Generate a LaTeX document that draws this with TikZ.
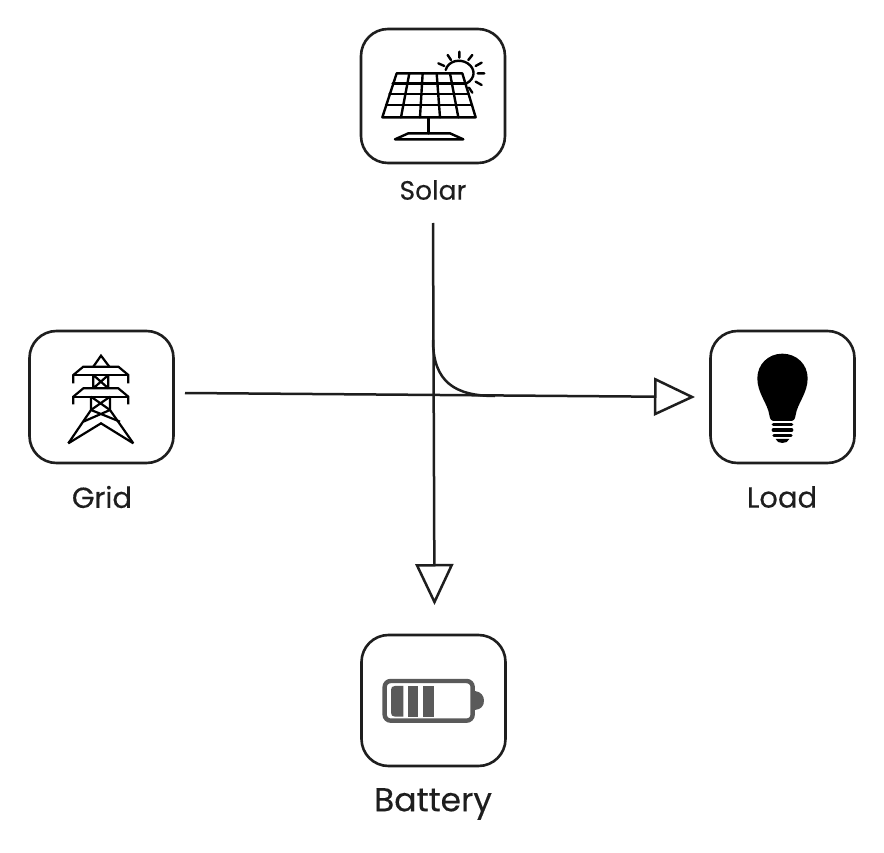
\documentclass[tikz,border=0pt]{standalone}
\usepackage{fontspec}
\newfontfamily\capfont{Poppins}[FakeBold=0.25]
\usetikzlibrary{arrows.meta}
\definecolor{ink}{HTML}{1E1E1E}
\definecolor{battgray}{HTML}{5A5A5A}
\tikzset{
  iconbox/.style={draw=ink,line width=2.6pt,rounded corners=27pt,fill=white,inner sep=0pt},
  caption/.style={text=ink,inner sep=0pt,anchor=center},
  flow/.style={draw=ink,line width=2.5pt},
  openhead/.style={-{Triangle[open,length=41pt,width=38pt,line width=2.5pt]}},
  iconline/.style={draw=black,line width=2.4pt,line cap=round,line join=round},
  towerline/.style={draw=black,line width=2.2pt,line cap=butt,line join=miter},
  bulbring/.style={draw=black,line width=3.4pt,line cap=round}
}
\begin{document}
\begin{tikzpicture}[x=1pt,y=-1pt]
\useasboundingbox (0,0) rectangle (884,853);
\fill[white] (0,0) rectangle (884,853);

% boxes
\node[iconbox,minimum width=144pt,minimum height=134pt] (solar) at (433,96) {};
\node[iconbox,minimum width=144pt,minimum height=132pt] (grid) at (101.5,397) {};
\node[iconbox,minimum width=144pt,minimum height=132pt] (load) at (782.5,397) {};
\node[iconbox,minimum width=144pt,minimum height=131pt] (battery) at (433.5,700.5) {};

% captions
\node[caption,font=\capfont\fontsize{26.5}{26.5}\selectfont] (solarlabel) at (433,190) {Solar};
\node[caption,font=\capfont\fontsize{29}{29}\selectfont] (gridlabel) at (102,497) {Grid};
\node[caption,font=\capfont\fontsize{29}{29}\selectfont] (loadlabel) at (782,497) {Load};
\node[caption,font=\capfont\fontsize{33}{33}\selectfont] (batterylabel) at (433,804) {Battery};

% connector ends
\coordinate (solarout) at (433,223);
\coordinate (batteryin) at (434.5,605);
\coordinate (gridout) at (185,393);
\coordinate (loadin) at (695,397);
\coordinate (curvestart) at (433,340);
\coordinate (curveend) at (495,396);

% connectors
\draw[flow,openhead] (solarout) -- (batteryin);
\draw[flow,openhead] (gridout) -- (loadin);
\draw[flow] (curvestart) .. controls (433,382) and (455,396) .. (curveend);

% solar icon
\begin{scope}[shift={(355,20)},x=0.3333pt,y=-0.3333pt]
  \draw[iconline] (125,160) -- (322,160) -- (362,292) -- (82,292) -- cycle;
  \draw[iconline] (113,190) -- (331,190) (103,222) -- (341,222) (93,255) -- (351,255);
  \draw[iconline] (163,160) -- (138,292) (203,160) -- (195,292) (245,160) -- (255,292) (285,160) -- (310,292);
  \draw[iconline] (220,292) -- (220,340);
  \draw[iconline] (160,340) -- (285,340) -- (325,358) -- (120,358) -- cycle;
  \draw[iconline] (272,150) .. controls (280,122) and (315,115) .. (338,130) .. controls (362,146) and (362,175) .. (335,190);
  \draw[iconline] (250,130) -- (268,138) (278,105) -- (288,120) (313,95) -- (313,113)
    (352,105) -- (340,120) (380,128) -- (362,138) (388,160) -- (368,160)
    (380,195) -- (362,185) (352,218) -- (342,203);
\end{scope}

% pylon icon
\begin{scope}[shift={(20,325)},x=0.3333pt,y=-0.3333pt]
  \draw[towerline] (220,125) -- (243,92) -- (268,125);
  \draw[towerline] (160,175) -- (160,150) -- (190,125) -- (295,125) -- (325,150) -- (325,175);
  \draw[towerline] (160,150) -- (325,150);
  \draw[towerline] (160,238) -- (160,215) -- (190,190) -- (295,190) -- (325,215) -- (325,238);
  \draw[towerline] (160,215) -- (325,215);
  \draw[towerline] (220,150) -- (220,190) (265,150) -- (265,190) (220,150) -- (265,190) (265,150) -- (220,190);
  \draw[towerline] (213,215) -- (213,255) -- (145,355) (270,215) -- (270,255) -- (340,355);
  \draw[towerline] (213,215) -- (270,255) (270,215) -- (213,255);
  \draw[towerline] (213,255) -- (300,290) (270,255) -- (190,290);
  \draw[towerline] (145,355) -- (243,295) -- (340,355);
\end{scope}

% bulb icon
\begin{scope}[shift={(705,325)},x=0.3333pt,y=-0.3333pt]
  \fill[black] (208,288) .. controls (198,288) and (195,282) .. (193,270)
    .. controls (188,235) and (157,205) .. (157,160)
    .. controls (157,118) and (190,86) .. (232,86)
    .. controls (275,86) and (308,118) .. (308,160)
    .. controls (308,205) and (277,235) .. (272,270)
    .. controls (270,282) and (267,288) .. (257,288) -- cycle;
  \draw[bulbring] (205,299) -- (260,299) (205,315) -- (260,315) (207,331) -- (258,331);
  \fill[black] (212,342) -- (253,342) .. controls (250,350) and (242,354) .. (232,354) .. controls (222,354) and (215,350) .. (212,342) -- cycle;
\end{scope}

% battery icon
\begin{scope}[shift={(355,630)},x=0.3333pt,y=-0.3333pt]
  \draw[draw=battgray,line width=4.4pt,rounded corners=6pt] (89,153) rectangle (353,272);
  \fill[battgray] (360,183) .. controls (378,185) and (387,198) .. (387,212) .. controls (387,228) and (378,238) .. (360,240) -- cycle;
  \fill[battgray] (145,168) -- (145,260) -- (120,260) .. controls (112,260) and (108,256) .. (108,248) -- (108,180) .. controls (108,172) and (112,168) .. (120,168) -- cycle;
  \fill[battgray] (158,168) rectangle (190,260);
  \fill[battgray] (205,168) rectangle (238,260);
\end{scope}
\end{tikzpicture}
\end{document}
